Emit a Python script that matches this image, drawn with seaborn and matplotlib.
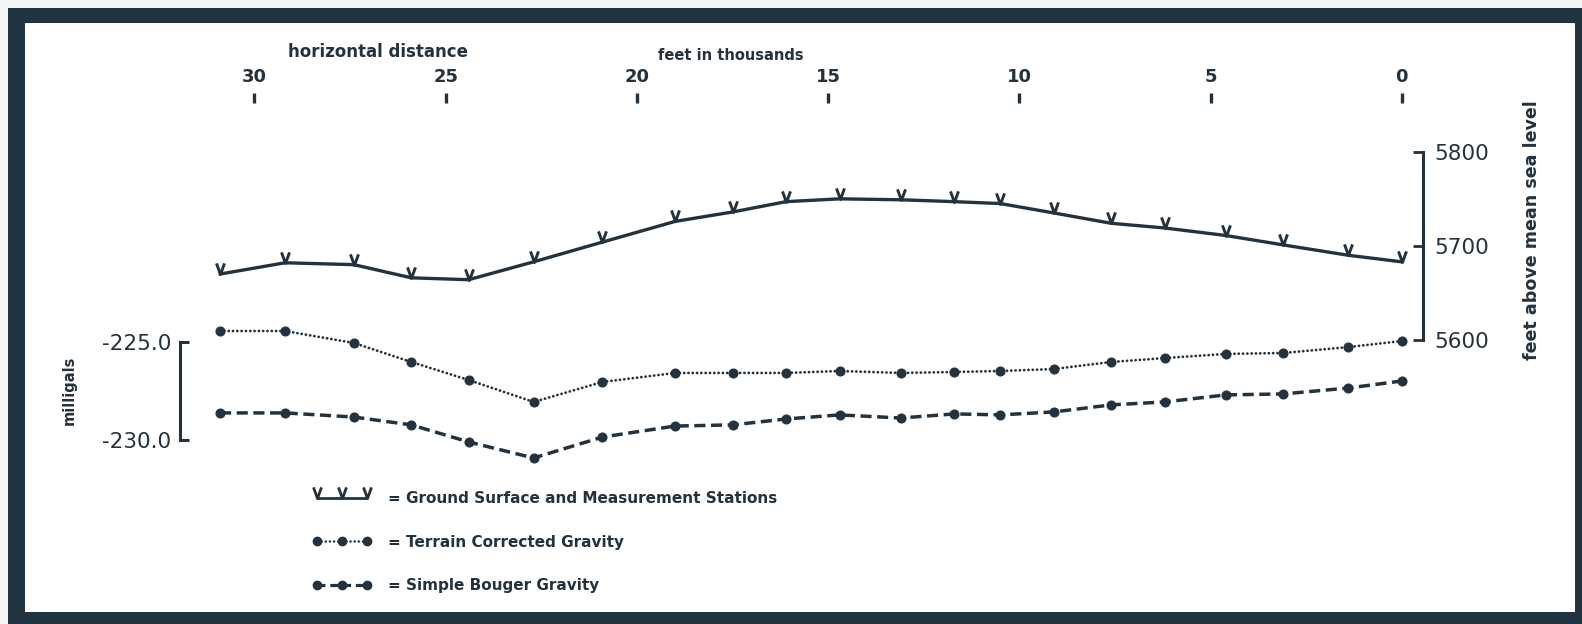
"""Gravity profile: ground surface, terrain corrected and simple Bouguer gravity."""

import matplotlib

matplotlib.use("Agg")
import matplotlib.pyplot as plt
import seaborn as sns
from matplotlib.lines import Line2D
from matplotlib.patches import Rectangle
from matplotlib.path import Path

# station positions, thousands of feet from the east end
distance_kft = [30.9, 29.2, 27.4, 25.9, 24.4, 22.7, 20.9, 19.0, 17.5, 16.1, 14.7,
                13.1, 11.7, 10.5, 9.1, 7.6, 6.2, 4.6, 3.1, 1.4, 0.0]
# ground surface elevation, feet above mean sea level
ground_ft = [5670, 5682, 5680, 5666, 5664, 5683, 5704, 5726, 5736, 5747, 5750,
             5749, 5747, 5745, 5735, 5724, 5719, 5711, 5701, 5690, 5683]
# gravity, milligals
terrain_mgal = [-224.44, -224.44, -225.05, -226.02, -226.94, -228.06, -227.04,
                -226.58, -226.58, -226.58, -226.48, -226.58, -226.53, -226.48,
                -226.38, -226.02, -225.82, -225.61, -225.56, -225.26, -224.95]
bouguer_mgal = [-228.62, -228.62, -228.83, -229.23, -230.10, -230.92, -229.85,
                -229.29, -229.23, -228.93, -228.72, -228.88, -228.67, -228.72,
                -228.57, -228.21, -228.06, -227.70, -227.65, -227.35, -226.99]

x_ticks = [30, 25, 20, 15, 10, 5, 0]
mgal_ticks = [-225.0, -230.0]
mgal_labels = ["-225.0", "-230.0"]
elev_ticks = [5800, 5700, 5600]
elev_labels = ["5800", "5700", "5600"]
legend_labels = [
    "= Ground Surface and Measurement Stations",
    "= Terrain Corrected Gravity",
    "= Simple Bouger Gravity",
]

W, H = 1582, 624
FRAME = "#1f3341"
INK = "#22323e"


def fx(px):
    return px / W


def fy(py):
    return 1 - py / H


sns.set_theme(style="white")
plt.rcParams["font.family"] = ["DejaVu Sans"]

fig = plt.figure(figsize=(W / 100, H / 100), dpi=100)
fig.patch.set_facecolor("#f4f5f5")
fig.patches.append(Rectangle((fx(8), 0), 1 - fx(8), fy(8), transform=fig.transFigure,
                             facecolor=FRAME, edgecolor="none", zorder=-10))

ax = fig.add_axes([fx(25), fy(612), (1575 - 25) / W, (612 - 23) / H])
ax.set_facecolor("white")
ax.set_xlim(36.0, -4.53)
ax.set_ylim(-238.78, -208.72)

ax2 = ax.twinx()
ax2.set_ylim(5310.6, 5937.0)
ax2.patch.set_visible(False)

# V-shaped station marker sitting on top of the ground line
v_marker = Path([(-0.36, 1.0), (0.0, 0.0), (0.36, 1.0)],
                [Path.MOVETO, Path.LINETO, Path.LINETO])

sns.lineplot(x=distance_kft, y=ground_ft, ax=ax2, color=INK, lw=2.4,
             marker=v_marker, ms=16, mfc="none", mec=INK, mew=2.1,
             solid_joinstyle="round", solid_capstyle="round", sort=False)
sns.lineplot(x=distance_kft, y=terrain_mgal, ax=ax, color=INK, lw=2.0,
             linestyle=(0, (0.05, 1.5)), dash_capstyle="round",
             marker="o", ms=6.5, mec=INK, mfc=INK, sort=False)
sns.lineplot(x=distance_kft, y=bouguer_mgal, ax=ax, color=INK, lw=2.5,
             linestyle=(0, (3.2, 1.6)), marker="o", ms=6.5, mec=INK, mfc=INK,
             sort=False)

# top distance scale
ax.xaxis.tick_top()
ax.set_xticks(x_ticks)
ax.set_xticklabels([str(t) for t in x_ticks])
ax.spines["top"].set_position(("axes", (612 - 103) / (612 - 23)))
ax.tick_params(axis="x", which="major", direction="out", length=7.5, width=2.4,
               color=INK, pad=4.5, bottom=False, top=True, labelsize=13,
               labelcolor=INK, labelbottom=False, labeltop=True)
for tick in ax.xaxis.get_major_ticks():
    tick.label1.set_fontweight("bold")
    tick.label2.set_fontweight("bold")

# left gravity bracket
for side in ("top", "bottom", "right"):
    ax.spines[side].set_visible(False)
ax.spines["left"].set_position(("data", 31.94))
ax.spines["left"].set_bounds(-230.0, -225.0)
ax.spines["left"].set_linewidth(2.2)
ax.spines["left"].set_color(INK)
ax.set_yticks(mgal_ticks)
ax.set_yticklabels(mgal_labels)
ax.tick_params(axis="y", direction="in", length=6.5, width=2.2, color=INK, pad=6.5,
               labelsize=15.5, labelcolor=INK)

# right elevation bracket
for side in ("top", "bottom", "left"):
    ax2.spines[side].set_visible(False)
ax2.spines["right"].set_position(("data", -0.55))
ax2.spines["right"].set_bounds(5600, 5800)
ax2.spines["right"].set_linewidth(2.2)
ax2.spines["right"].set_color(INK)
ax2.set_yticks(elev_ticks)
ax2.set_yticklabels(elev_labels)
ax2.tick_params(axis="y", direction="in", length=7, width=2.0, color=INK, pad=8.5,
                labelsize=15.5, labelcolor=INK)
ax.set_xlabel("")
ax.set_ylabel("")
ax2.set_ylabel("")

fig.text(fx(378), fy(52), "horizontal distance", ha="center", va="center",
         fontsize=12, fontweight="bold", color=INK)
fig.text(fx(731), fy(55), "feet in thousands", ha="center", va="center",
         fontsize=10.5, fontweight="bold", color=INK)
fig.text(fx(69), fy(390), "milligals", ha="center", va="center", rotation=90,
         fontsize=10.5, fontweight="bold", color=INK)
fig.text(fx(1532), fy(230), "feet above mean sea level", ha="center", va="center",
         rotation=90, fontsize=12.6, fontweight="bold", color=INK)

handles = [
    Line2D([], [], color=INK, lw=2.0, marker=v_marker, ms=16, mfc="none", mew=2.0),
    Line2D([], [], color=INK, lw=1.8, linestyle=(0, (0.05, 1.6)),
           dash_capstyle="round", marker="o", ms=6, mfc=INK, mec=INK),
    Line2D([], [], color=INK, lw=2.3, linestyle=(0, (2.5, 1.5)),
           marker="o", ms=6, mfc=INK, mec=INK),
]
leg = ax.legend(handles, legend_labels, loc="upper left",
                bbox_to_anchor=((312 - 25) / 1550, (612 - 491) / 589),
                frameon=False, numpoints=3, handlelength=3.9, handletextpad=1.05,
                labelspacing=1.87, borderpad=0, borderaxespad=0,
                prop={"size": 11, "weight": "bold"})
for text in leg.get_texts():
    text.set_color(INK)

fig.savefig("out.png", dpi=100, facecolor=fig.get_facecolor())
